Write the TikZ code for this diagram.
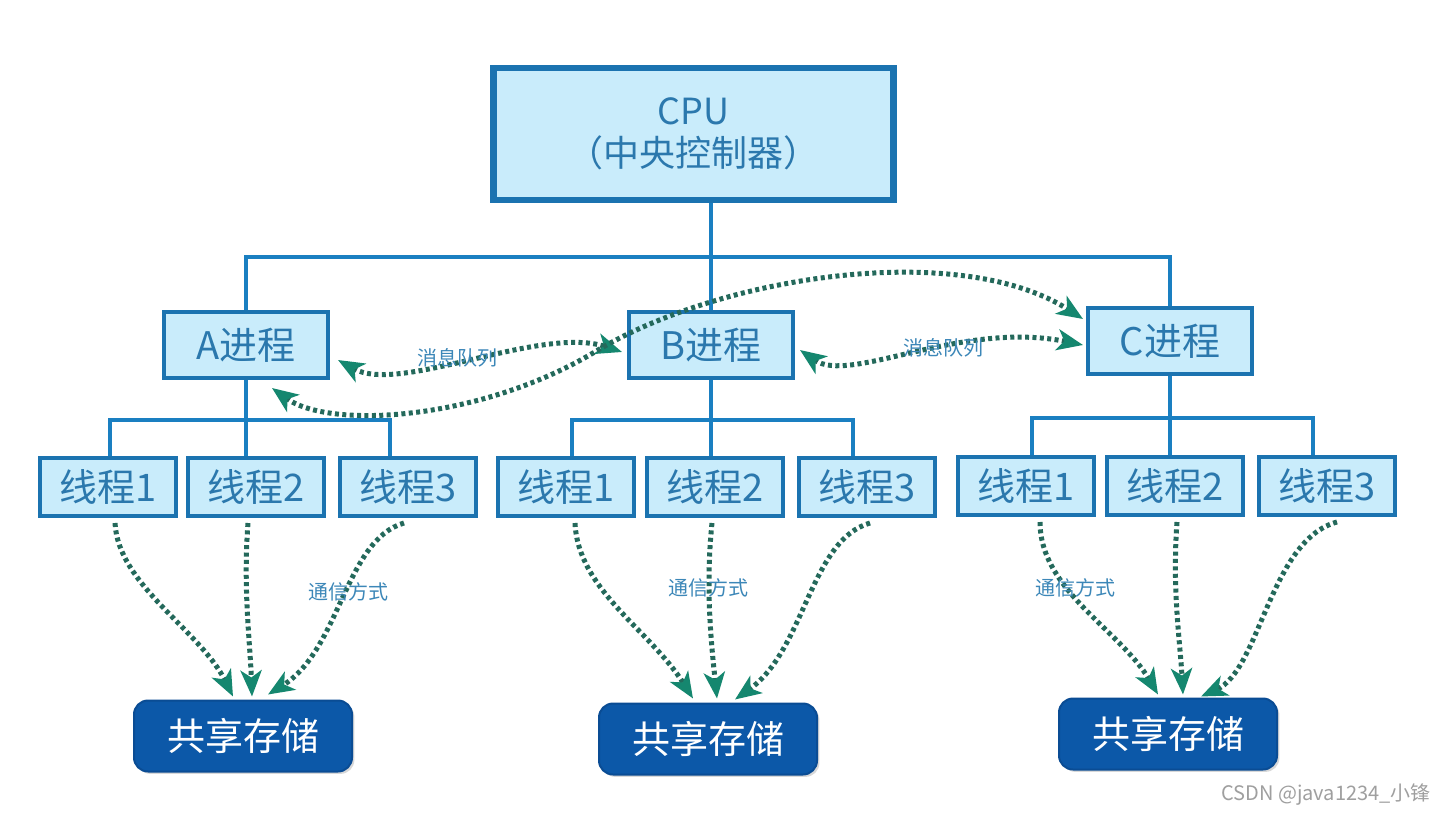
\documentclass[tikz,border=0pt]{standalone}
\usepackage{fontspec}
\newfontfamily\cjk{Noto Sans CJK SC}
\usetikzlibrary{arrows.meta,shadows,calc}
\definecolor{boxfill}{HTML}{C9ECFB}
\definecolor{boxline}{HTML}{1B73B0}
\definecolor{treeline}{HTML}{1A7FC1}
\definecolor{boxtext}{HTML}{2B78AD}
\definecolor{dotline}{HTML}{24695B}
\definecolor{tipcol}{HTML}{15876F}
\definecolor{storefill}{HTML}{0C58A8}
\definecolor{storeline}{HTML}{0A4C94}
\definecolor{lbl}{HTML}{3C87B8}
\begin{document}
\begin{tikzpicture}[x=0.5pt,y=-0.5pt,
 >={Stealth[length=13pt,width=10.5pt,inset=3.5pt,color=tipcol]},
 shad/.style={drop shadow={shadow xshift=1.2pt,shadow yshift=-1.2pt,opacity=0.3,fill=gray}},
 cpubox/.style={draw=boxline,line width=3.2pt,fill=boxfill,minimum width=200pt,minimum height=66pt,inner sep=0pt,align=center,text=boxtext,font=\cjk\fontsize{18}{21}\selectfont,shad},
 procbox/.style={draw=boxline,line width=2pt,fill=boxfill,minimum width=82pt,minimum height=33pt,inner sep=0pt,text=boxtext,font=\cjk\fontsize{19}{22}\selectfont,shad},
 thrbox/.style={draw=boxline,line width=2pt,fill=boxfill,minimum width=68pt,minimum height=29pt,inner sep=0pt,text=boxtext,font=\cjk\fontsize{19}{22}\selectfont,shad},
 storebox/.style={draw=storeline,line width=1pt,fill=storefill,rounded corners=7pt,minimum width=109pt,minimum height=35.5pt,inner sep=0pt,text=white,font=\cjk\fontsize{19}{22}\selectfont,shad},
 tree/.style={draw=treeline,line width=2pt},
 dotarrow/.style={draw=dotline,line width=2.5pt,dash pattern=on 2pt off 1.7pt},
 lab/.style={text=lbl,font=\cjk\fontsize{10}{12}\selectfont,inner sep=0pt},
]
\useasboundingbox[fill=white] (0,0) rectangle (1445,813);

% nodes
\node[cpubox] (cpu) at (693.5,134) {CPU\\（中央控制器）};
\node[procbox] (A) at (246,345) {A进程};
\node[procbox] (B) at (711,345) {B进程};
\node[procbox] (C) at (1170,341) {C进程};

\node[thrbox] (a1) at (108,487) {线程1};
\node[thrbox] (a2) at (256,487) {线程2};
\node[thrbox] (a3) at (408,487) {线程3};
\node[thrbox] (b1) at (566,487) {线程1};
\node[thrbox] (b2) at (715,487) {线程2};
\node[thrbox] (b3) at (867,487) {线程3};
\node[thrbox] (c1) at (1026,486) {线程1};
\node[thrbox] (c2) at (1175,486) {线程2};
\node[thrbox] (c3) at (1327,486) {线程3};

\node[storebox] (SA) at (243,736) {共享存储};
\node[storebox] (SB) at (708,739) {共享存储};
\node[storebox] (SC) at (1168,734) {共享存储};

% tree connectors
\coordinate (stem) at (711,257);
\draw[tree] (cpu.south -| stem) -- (stem);
\draw[tree] (A.north) |- (stem) -| (C.north);
\draw[tree] (stem) -- (B.north);

\coordinate (ax1) at (110,420);
\coordinate (ax3) at (390,420);
\draw[tree] (A.south) -- (A.south |- ax1);
\draw[tree] (ax1 |- a1.north) -- (ax1) -- (ax3) -- (ax3 |- a3.north);
\draw[tree] (A.south |- ax1) -- (A.south |- a2.north);

\coordinate (bx1) at (572,420);
\coordinate (bx3) at (853,420);
\draw[tree] (B.south) -- (B.south |- bx1);
\draw[tree] (bx1 |- b1.north) -- (bx1) -- (bx3) -- (bx3 |- b3.north);
\draw[tree] (B.south |- bx1) -- (B.south |- b2.north);

\coordinate (cx1) at (1032,418);
\coordinate (cx3) at (1313,418);
\draw[tree] (C.south) -- (C.south |- cx1);
\draw[tree] (cx1 |- c1.north) -- (cx1) -- (cx3) -- (cx3 |- c3.north);
\draw[tree] (C.south |- cx1) -- (C.south |- c2.north);

% message queues
\draw[dotarrow,<->] ($(A.east)+(8,15)$) .. controls (400,395) and (540,325) .. ($(B.west)+(-5,7)$);
\draw[dotarrow,<->] ($(A.south)+(26,8)$) .. controls (330,430) and (480,420) .. (593,353)
   .. controls (720,275) and (960,240) .. ($(C.west)+(-3,-22)$);
\draw[dotarrow,<->] ($(B.east)+(5,5)$) .. controls (850,385) and (960,320) .. ($(C.west)+(-3,4)$);
\node[lab] (mq1) at (457,358) {消息队列};
\node[lab] (mq2) at (943,348) {消息队列};

% thread -> shared storage
\draw[dotarrow,->] ($(a1.south)+(7,5)$) .. controls (118,585) and (200,630) .. ($(SA.north)+(-10,-3)$);
\draw[dotarrow,->] ($(a2.south)+(-8,5)$) .. controls (243,590) and (250,640) .. ($(SA.north)+(9,-3)$);
\draw[dotarrow,->] ($(a3.south)+(-4,5)$) .. controls (345,540) and (340,650) .. ($(SA.north)+(25,-5)$);
\node[lab] (ta) at (348,592) {通信方式};

\draw[dotarrow,->] ($(b1.south)+(9,5)$) .. controls (578,590) and (650,630) .. ($(SB.north)+(-15,-4)$);
\draw[dotarrow,->] ($(b2.south)+(-3,5)$) .. controls (705,590) and (712,650) .. ($(SB.north)+(9,-4)$);
\draw[dotarrow,->] ($(b3.south)+(3,5)$) .. controls (810,540) and (805,650) .. ($(SB.north)+(27,-3)$);
\node[lab] (tb) at (708,588) {通信方式};

\draw[dotarrow,->] ($(c1.south)+(14,5)$) .. controls (1040,590) and (1120,630) .. ($(SC.north)+(-10,-3)$);
\draw[dotarrow,->] ($(c2.south)+(2,5)$) .. controls (1172,590) and (1180,640) .. ($(SC.north)+(15,-3)$);
\draw[dotarrow,->] ($(c3.south)+(10,5)$) .. controls (1270,540) and (1260,670) .. ($(SC.north)+(33,-1)$);
\node[lab] (tc) at (1075,588) {通信方式};

\node[text=gray!75,font=\cjk\fontsize{10}{12}\selectfont,inner sep=0pt] (wm) at (1326,795) {CSDN @java1234\_小锋};
\end{tikzpicture}
\end{document}
